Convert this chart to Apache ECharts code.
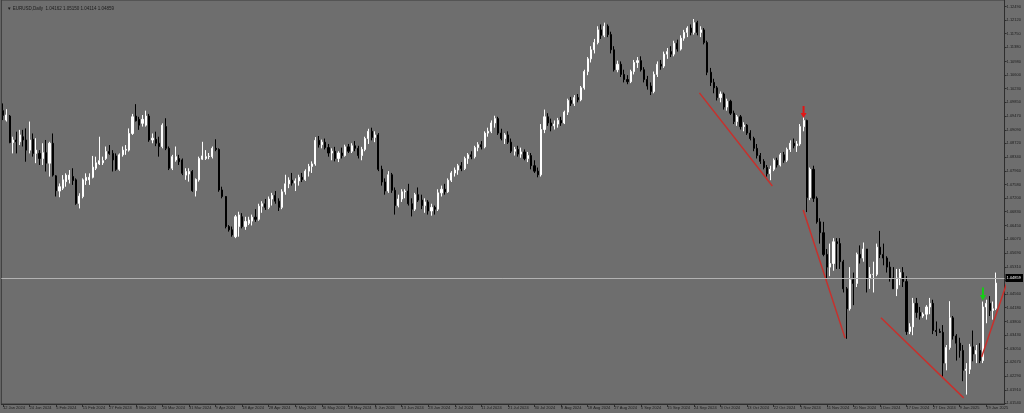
<!DOCTYPE html>
<html><head><meta charset="utf-8">
<script src="https://cdn.jsdelivr.net/npm/echarts@6/dist/echarts.min.js"></script>
<style>html,body{margin:0;padding:0;background:#6e6e6e}#c{width:1024px;height:413px}</style>
</head><body><div id="c"></div>
<script>
const symbolTitle = 'EURUSD,Daily';
const lastOHLC = [1.04162, 1.05150, 1.04114, 1.04859];
const dateLabels = ['12 Jan 2024','24 Jan 2024','5 Feb 2024','15 Feb 2024','27 Feb 2024','8 Mar 2024','20 Mar 2024','31 Mar 2024','9 Apr 2024','18 Apr 2024','28 Apr 2024','7 May 2024','16 May 2024','28 May 2024','6 Jun 2024','13 Jun 2024','23 Jun 2024','2 Jul 2024','11 Jul 2024','21 Jul 2024','30 Jul 2024','8 Aug 2024','18 Aug 2024','27 Aug 2024','5 Sep 2024','15 Sep 2024','24 Sep 2024','3 Oct 2024','13 Oct 2024','22 Oct 2024','1 Nov 2024','11 Nov 2024','20 Nov 2024','1 Dec 2024','17 Dec 2024','27 Dec 2024','9 Jan 2025','19 Jan 2025'];
const priceTicks = [1.12490,1.12120,1.11750,1.11380,1.10980,1.10600,1.10230,1.09850,1.09470,1.09090,1.08720,1.08340,1.07960,1.07580,1.07200,1.06830,1.06450,1.06070,1.05690,1.05310,1.04940,1.04560,1.04180,1.03800,1.03430,1.03050,1.02670,1.02290,1.01910,1.01540];
// [open, high, low, close]
const candles = [
[1.0962,1.0982,1.0936,1.0949],[1.0936,1.0966,1.0932,1.0950],[1.0947,1.0950,1.0872,1.0874],[1.0874,1.0890,1.0844,1.0881],[1.0881,1.0904,1.0844,1.0876],
[1.0876,1.0909,1.0867,1.0895],[1.0890,1.0909,1.0863,1.0881],[1.0881,1.0913,1.0821,1.0853],[1.0853,1.0932,1.0844,1.0881],[1.0883,1.0899,1.0835,1.0844],
[1.0844,1.0886,1.0817,1.0853],[1.0844,1.0853,1.0812,1.0830],[1.0830,1.0872,1.0812,1.0846],[1.0846,1.0881,1.0794,1.0817],[1.0817,1.0876,1.0780,1.0872],
[1.0872,1.0899,1.0780,1.0784],[1.0782,1.0784,1.0725,1.0741],[1.0740,1.0761,1.0723,1.0752],[1.0748,1.0784,1.0743,1.0771],[1.0766,1.0789,1.0752,1.0784],
[1.0772,1.0798,1.0761,1.0784],[1.0780,1.0803,1.0757,1.0769],[1.0771,1.0775,1.0702,1.0706],[1.0706,1.0734,1.0692,1.0726],[1.0725,1.0775,1.0720,1.0771],
[1.0769,1.0789,1.0757,1.0778],[1.0771,1.0789,1.0757,1.0778],[1.0778,1.0837,1.0775,1.0806],[1.0803,1.0835,1.0798,1.0818],[1.0815,1.0890,1.0812,1.0824],
[1.0818,1.0835,1.0812,1.0824],[1.0830,1.0863,1.0826,1.0849],[1.0849,1.0867,1.0840,1.0844],[1.0844,1.0853,1.0794,1.0826],[1.0837,1.0844,1.0796,1.0800],
[1.0800,1.0844,1.0796,1.0840],[1.0840,1.0863,1.0835,1.0853],[1.0853,1.0867,1.0840,1.0855],[1.0853,1.0913,1.0849,1.0899],[1.0899,1.0953,1.0895,1.0945],
[1.0947,1.0980,1.0932,1.0934],[1.0938,1.0945,1.0909,1.0922],[1.0927,1.0950,1.0918,1.0938],[1.0922,1.0962,1.0918,1.0947],[1.0947,1.0953,1.0876,1.0881],
[1.0881,1.0899,1.0872,1.0886],[1.0883,1.0904,1.0864,1.0872],[1.0872,1.0890,1.0835,1.0863],[1.0863,1.0927,1.0858,1.0922],[1.0918,1.0941,1.0853,1.0858],
[1.0858,1.0863,1.0798,1.0803],[1.0803,1.0840,1.0798,1.0835],[1.0826,1.0863,1.0821,1.0835],[1.0830,1.0840,1.0812,1.0821],[1.0826,1.0830,1.0784,1.0789],
[1.0784,1.0803,1.0771,1.0794],[1.0787,1.0803,1.0766,1.0794],[1.0794,1.0798,1.0738,1.0741],[1.0741,1.0775,1.0725,1.0772],[1.0771,1.0835,1.0766,1.0830],
[1.0828,1.0876,1.0826,1.0837],[1.0830,1.0853,1.0826,1.0835],[1.0835,1.0845,1.0828,1.0836],[1.0835,1.0863,1.0830,1.0858],[1.0858,1.0883,1.0850,1.0855],
[1.0855,1.0858,1.0738,1.0743],[1.0743,1.0752,1.0720,1.0725],[1.0725,1.0726,1.0637,1.0642],[1.0642,1.0646,1.0628,1.0633],[1.0633,1.0642,1.0614,1.0619],
[1.0614,1.0674,1.0610,1.0669],[1.0642,1.0683,1.0614,1.0674],[1.0669,1.0679,1.0637,1.0642],[1.0642,1.0669,1.0633,1.0656],[1.0651,1.0669,1.0646,1.0660],
[1.0657,1.0675,1.0645,1.0668],[1.0668,1.0690,1.0655,1.0662],[1.0662,1.0705,1.0658,1.0698],[1.0698,1.0712,1.0680,1.0705],[1.0705,1.0718,1.0688,1.0695],
[1.0695,1.0725,1.0690,1.0718],[1.0718,1.0735,1.0700,1.0728],[1.0728,1.0740,1.0705,1.0712],[1.0712,1.0720,1.0685,1.0695],[1.0695,1.0745,1.0690,1.0738],
[1.0738,1.0785,1.0730,1.0760],[1.0760,1.0778,1.0748,1.0770],[1.0770,1.0790,1.0755,1.0762],[1.0762,1.0775,1.0740,1.0768],[1.0768,1.0785,1.0755,1.0778],
[1.0778,1.0790,1.0765,1.0772],[1.0772,1.0800,1.0768,1.0795],[1.0795,1.0815,1.0780,1.0808],[1.0808,1.0822,1.0790,1.0815],[1.0815,1.0889,1.0810,1.0880],
[1.0880,1.0892,1.0860,1.0868],[1.0868,1.0882,1.0858,1.0875],[1.0875,1.0885,1.0855,1.0860],[1.0860,1.0870,1.0835,1.0845],[1.0845,1.0858,1.0825,1.0850],
[1.0850,1.0862,1.0822,1.0830],[1.0830,1.0850,1.0820,1.0845],[1.0845,1.0860,1.0830,1.0838],[1.0838,1.0868,1.0835,1.0862],[1.0862,1.0870,1.0845,1.0850],
[1.0850,1.0872,1.0845,1.0865],[1.0865,1.0878,1.0850,1.0858],[1.0858,1.0865,1.0830,1.0838],[1.0838,1.0862,1.0825,1.0855],[1.0855,1.0890,1.0850,1.0885],
[1.0885,1.0912,1.0870,1.0905],[1.0905,1.0915,1.0880,1.0888],[1.0888,1.0905,1.0875,1.0895],[1.0895,1.0900,1.0795,1.0800],[1.0800,1.0810,1.0755,1.0765],
[1.0765,1.0775,1.0730,1.0740],[1.0740,1.0795,1.0735,1.0785],[1.0785,1.0790,1.0735,1.0742],[1.0742,1.0750,1.0675,1.0700],[1.0700,1.0730,1.0695,1.0718],
[1.0718,1.0745,1.0710,1.0738],[1.0738,1.0745,1.0720,1.0740],[1.0740,1.0760,1.0700,1.0705],[1.0705,1.0720,1.0670,1.0690],[1.0690,1.0735,1.0685,1.0730],
[1.0730,1.0750,1.0710,1.0715],[1.0715,1.0730,1.0690,1.0700],[1.0700,1.0720,1.0680,1.0710],[1.0710,1.0715,1.0675,1.0685],[1.0685,1.0705,1.0672,1.0695],
[1.0695,1.0700,1.0675,1.0690],[1.0690,1.0745,1.0685,1.0735],[1.0735,1.0755,1.0725,1.0745],[1.0745,1.0760,1.0730,1.0738],[1.0738,1.0775,1.0735,1.0770],
[1.0770,1.0795,1.0765,1.0790],[1.0790,1.0805,1.0780,1.0798],[1.0798,1.0815,1.0785,1.0810],[1.0810,1.0820,1.0795,1.0802],[1.0802,1.0835,1.0798,1.0830],
[1.0830,1.0845,1.0815,1.0840],[1.0840,1.0850,1.0828,1.0835],[1.0835,1.0865,1.0830,1.0860],[1.0860,1.0875,1.0850,1.0868],[1.0868,1.0878,1.0855,1.0862],
[1.0862,1.0905,1.0858,1.0900],[1.0900,1.0915,1.0890,1.0905],[1.0905,1.0935,1.0900,1.0928],[1.0928,1.0948,1.0915,1.0940],[1.0940,1.0945,1.0895,1.0900],
[1.0900,1.0912,1.0880,1.0885],[1.0885,1.0900,1.0870,1.0895],[1.0895,1.0905,1.0870,1.0875],[1.0875,1.0885,1.0845,1.0850],[1.0850,1.0862,1.0838,1.0855],
[1.0855,1.0865,1.0835,1.0842],[1.0842,1.0860,1.0832,1.0848],[1.0848,1.0855,1.0825,1.0830],[1.0830,1.0848,1.0820,1.0838],[1.0838,1.0845,1.0800,1.0810],
[1.0810,1.0825,1.0790,1.0795],[1.0795,1.0805,1.0778,1.0785],[1.0785,1.0925,1.0780,1.0910],[1.0910,1.0965,1.0900,1.0945],[1.0945,1.0955,1.0920,1.0928],
[1.0928,1.0940,1.0905,1.0920],[1.0920,1.0935,1.0910,1.0925],[1.0925,1.0942,1.0915,1.0935],[1.0935,1.0945,1.0920,1.0928],[1.0928,1.0962,1.0925,1.0958],
[1.0958,1.0995,1.0950,1.0990],[1.0990,1.1000,1.0975,1.0982],[1.0982,1.1005,1.0975,1.0998],[1.0998,1.1008,1.0985,1.0992],[1.0992,1.1030,1.0988,1.1025],
[1.1025,1.1075,1.1020,1.1070],[1.1070,1.1110,1.1060,1.1105],[1.1105,1.1140,1.1095,1.1130],[1.1130,1.1160,1.1120,1.1150],[1.1150,1.1195,1.1145,1.1185],
[1.1185,1.1200,1.1160,1.1170],[1.1170,1.1205,1.1165,1.1195],[1.1195,1.1200,1.1165,1.1172],[1.1172,1.1180,1.1120,1.1130],[1.1130,1.1140,1.1070,1.1075],
[1.1075,1.1100,1.1068,1.1090],[1.1090,1.1098,1.1055,1.1062],[1.1062,1.1075,1.1040,1.1048],[1.1048,1.1060,1.1035,1.1042],[1.1042,1.1075,1.1038,1.1070],
[1.1070,1.1102,1.1062,1.1095],[1.1095,1.1110,1.1080,1.1100],[1.1100,1.1112,1.1070,1.1075],[1.1075,1.1082,1.1040,1.1048],[1.1048,1.1058,1.1020,1.1030],
[1.1030,1.1040,1.1005,1.1015],[1.1015,1.1070,1.1010,1.1062],[1.1062,1.1098,1.1055,1.1090],[1.1090,1.1102,1.1075,1.1085],[1.1085,1.1125,1.1080,1.1118],
[1.1118,1.1135,1.1105,1.1125],[1.1125,1.1140,1.1110,1.1118],[1.1118,1.1155,1.1112,1.1148],[1.1148,1.1158,1.1125,1.1132],[1.1132,1.1170,1.1128,1.1162],
[1.1162,1.1185,1.1155,1.1178],[1.1178,1.1195,1.1165,1.1190],[1.1190,1.1200,1.1170,1.1178],[1.1178,1.1215,1.1172,1.1205],[1.1205,1.1210,1.1170,1.1178],
[1.1178,1.1195,1.1165,1.1185],[1.1185,1.1190,1.1145,1.1150],[1.1150,1.1155,1.1060,1.1068],[1.1068,1.1080,1.1030,1.1040],[1.1040,1.1050,1.1010,1.1025],
[1.1025,1.1030,1.0990,1.0998],[1.0998,1.1015,1.0985,1.1008],[1.1008,1.1012,1.0965,1.0972],[1.0972,1.0995,1.0962,1.0988],[1.0988,1.0992,1.0950,1.0955],
[1.0955,1.0962,1.0925,1.0932],[1.0932,1.0950,1.0920,1.0945],[1.0945,1.0950,1.0910,1.0918],[1.0918,1.0930,1.0905,1.0922],[1.0922,1.0925,1.0895,1.0900],
[1.0900,1.0908,1.0880,1.0885],[1.0885,1.0890,1.0850,1.0858],[1.0858,1.0870,1.0830,1.0838],[1.0838,1.0845,1.0815,1.0822],[1.0822,1.0828,1.0800,1.0805],
[1.0805,1.0812,1.0780,1.0788],[1.0788,1.0810,1.0770,1.0800],[1.0800,1.0830,1.0795,1.0825],[1.0825,1.0832,1.0805,1.0812],[1.0812,1.0845,1.0808,1.0840],
[1.0840,1.0848,1.0818,1.0825],[1.0825,1.0860,1.0820,1.0855],[1.0855,1.0880,1.0848,1.0872],[1.0872,1.0885,1.0858,1.0865],[1.0865,1.0878,1.0848,1.0870],
[1.0870,1.0925,1.0865,1.0918],[1.0918,1.0945,1.0905,1.0935],[1.0935,1.0937,1.0682,1.0722],[1.0722,1.0805,1.0715,1.0800],[1.0800,1.0810,1.0710,1.0720],
[1.0720,1.0725,1.0650,1.0655],[1.0655,1.0665,1.0595,1.0625],[1.0625,1.0655,1.0560,1.0565],[1.0565,1.0580,1.0497,1.0530],[1.0530,1.0595,1.0505,1.0540],
[1.0540,1.0610,1.0520,1.0600],[1.0600,1.0610,1.0525,1.0595],[1.0595,1.0610,1.0525,1.0545],[1.0545,1.0550,1.0460,1.0470],[1.0470,1.0475,1.0332,1.0415],
[1.0415,1.0530,1.0410,1.0495],[1.0495,1.0515,1.0425,1.0485],[1.0485,1.0570,1.0475,1.0565],[1.0565,1.0590,1.0540,1.0555],[1.0555,1.0598,1.0545,1.0580],
[1.0580,1.0580,1.0460,1.0500],[1.0500,1.0530,1.0470,1.0510],[1.0510,1.0545,1.0460,1.0510],[1.0510,1.0595,1.0505,1.0585],[1.0585,1.0630,1.0555,1.0565],
[1.0565,1.0595,1.0535,1.0555],[1.0555,1.0560,1.0515,1.0530],[1.0530,1.0545,1.0490,1.0500],[1.0500,1.0530,1.0470,1.0470],[1.0470,1.0525,1.0450,1.0500],
[1.0500,1.0525,1.0480,1.0515],[1.0515,1.0530,1.0475,1.0490],[1.0490,1.0505,1.0343,1.0352],[1.0352,1.0375,1.0345,1.0365],[1.0365,1.0445,1.0342,1.0430],
[1.0430,1.0445,1.0390,1.0405],[1.0405,1.0420,1.0385,1.0395],[1.0395,1.0405,1.0390,1.0400],[1.0400,1.0425,1.0385,1.0420],[1.0420,1.0445,1.0400,1.0430],
[1.0430,1.0440,1.0345,1.0355],[1.0355,1.0380,1.0340,1.0352],[1.0352,1.0360,1.0348,1.0350],[1.0350,1.0370,1.0224,1.0265],[1.0265,1.0315,1.0245,1.0308],
[1.0308,1.0436,1.0302,1.0390],[1.0390,1.0395,1.0330,1.0340],[1.0340,1.0345,1.0272,1.0320],[1.0320,1.0335,1.0280,1.0300],[1.0300,1.0315,1.0215,1.0245],
[1.0245,1.0265,1.0178,1.0248],[1.0248,1.0318,1.0235,1.0310],[1.0310,1.0355,1.0270,1.0290],[1.0290,1.0315,1.0265,1.0300],[1.0300,1.0320,1.0265,1.0272],
[1.0272,1.0435,1.0265,1.0420],[1.0420,1.0440,1.0375,1.0430],[1.0430,1.0450,1.0395,1.0410],[1.0410,1.0435,1.0385,1.0415],[1.04162,1.05150,1.04114,1.04859]
];
// trend lines: [[barPosition, price], [barPosition, price]] (bar position may be fractional)
const trendLines = [
  [[209.65, 1.1011], [231.6, 1.0754]],
  [[240.9, 1.0688], [253.5, 1.0334]],
  [[264.3, 1.0390], [289.2, 1.0169]],
  [[294.6, 1.0282], [302.4, 1.0492]]
];
// signal arrows: [barIndex, price]
const sellSignals = [[241, 1.0958]];
const buySignals = [[295, 1.0456]];
const emptyBarsRight = 2;

const nBars = candles.length + emptyBarsRight;
const categories = Array.from({length: nBars}, (_, i) => String(i));
const showTick = (i) => i % 8 === 0 && (i / 8) < dateLabels.length;
const arrowPath = 'path://M2,0 L4,0 L4,7 L6,7 L3,12 L0,7 L2,7 Z';
const txt = '#1c1c1c';
const font = 'Liberation Sans';

const chart = echarts.init(document.getElementById('c'), null, {renderer: 'canvas'});
const series = [{
  type: 'candlestick',
  data: candles.map(c => [c[0], c[3], c[2], c[1]]),
  barWidth: 1.6,
  itemStyle: {color: '#ffffff', color0: '#000000', borderColor: '#ffffff', borderColor0: '#000000', borderWidth: 1},
  markLine: {
    silent: true, symbol: 'none', animation: false,
    lineStyle: {color: '#b2b2b2', width: 1, type: 'solid'},
    label: {position: 'end', distance: 1, formatter: lastOHLC[3].toFixed(5), backgroundColor: '#000', color: '#fff',
            fontSize: 4, fontFamily: font, padding: [2, 2, 2, 1]},
    data: [{yAxis: lastOHLC[3]}]
  },
  z: 2
}];
trendLines.forEach(l => series.push({
  type: 'line', xAxisIndex: 1, data: l, symbol: 'none', silent: true, clip: false,
  lineStyle: {color: '#c8302c', width: 1.5}, z: 3
}));
series.push({type: 'scatter', data: sellSignals, symbol: arrowPath, symbolSize: [6, 12], itemStyle: {color: '#ff0000'}, z: 4});
series.push({type: 'scatter', data: buySignals, symbol: arrowPath, symbolSize: [6, 13], itemStyle: {color: '#00e600'}, z: 4});

chart.setOption({
  animation: false,
  backgroundColor: '#6e6e6e',
  title: {
    text: '\u25BC ' + symbolTitle + '  ' + lastOHLC.map(v => v.toFixed(5)).join(' '),
    left: 2, top: 1,
    textStyle: {fontSize: 4.5, color: txt, fontWeight: 'normal', fontFamily: font}
  },
  grid: {left: 0, right: 18, top: 0, bottom: 9, show: true, borderColor: '#3a3a3a', borderWidth: 1, backgroundColor: 'transparent'},
  xAxis: [{
    type: 'category', data: categories, boundaryGap: true,
    axisLine: {show: true, onZero: false, lineStyle: {color: '#2e2e2e', width: 1}},
    axisTick: {show: true, interval: showTick, alignWithLabel: true, length: 3, lineStyle: {color: '#2e2e2e'}},
    axisLabel: {interval: showTick, formatter: (v, i) => dateLabels[i / 8] || '', align: 'left', margin: 2,
                fontSize: 4, color: txt, fontFamily: font},
    splitLine: {show: false}
  }, {
    type: 'value', min: -0.5, max: nBars - 0.5, show: false,
    axisLine: {show: false, onZero: false}, axisTick: {show: false}, axisLabel: {show: false}, splitLine: {show: false}
  }],
  yAxis: {
    type: 'value', position: 'right', min: 1.01521, max: 1.12675, scale: true,
    axisLine: {show: true, onZero: false, lineStyle: {color: '#2e2e2e', width: 1}},
    axisTick: {show: true, customValues: priceTicks, length: 2, lineStyle: {color: '#2e2e2e'}},
    axisLabel: {customValues: priceTicks, formatter: v => v.toFixed(5), margin: 2, fontSize: 4, color: txt, fontFamily: font},
    splitLine: {show: false}
  },
  series: series
});
</script></body></html>
